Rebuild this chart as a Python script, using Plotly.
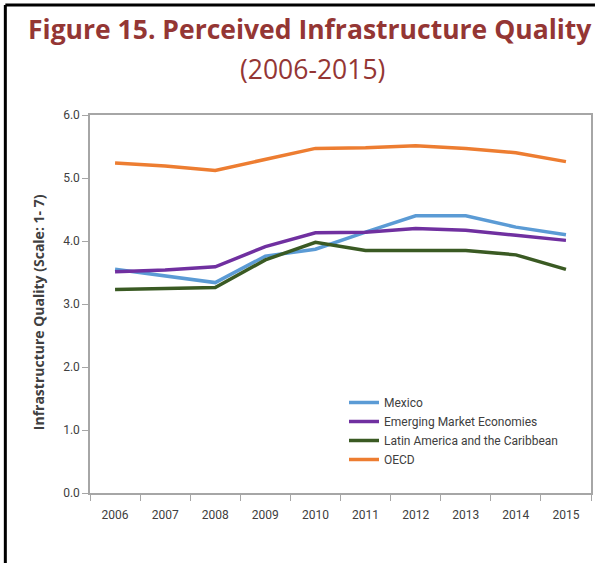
import plotly.graph_objects as go

years = ["2006", "2007", "2008", "2009", "2010", "2011", "2012", "2013", "2014", "2015"]
mexico = [3.55, 3.45, 3.34, 3.76, 3.87, 4.14, 4.40, 4.40, 4.22, 4.10]
emerging = [3.51, 3.54, 3.59, 3.91, 4.13, 4.14, 4.20, 4.17, 4.09, 4.01]
latam = [3.23, 3.25, 3.26, 3.70, 3.98, 3.85, 3.85, 3.85, 3.78, 3.55]
oecd = [5.24, 5.19, 5.12, 5.30, 5.47, 5.48, 5.51, 5.47, 5.40, 5.26]
y_ticks = [0, 1, 2, 3, 4, 5, 6]
y_tick_labels = ["0.0", "1.0", "2.0", "3.0", "4.0", "5.0", "6.0"]

series = [
    ("Mexico", mexico, "#5B9BD5"),
    ("Emerging Market Economies", emerging, "#7030A0"),
    ("Latin America and the Caribbean", latam, "#3A5A23"),
    ("OECD", oecd, "#ED7D31"),
]

fig = go.Figure()
for name, vals, col in series:
    fig.add_trace(go.Scatter(x=years, y=vals, name=name, mode="lines",
                             line=dict(color=col, width=3.5)))

W, H = 599, 563
L, R, T, B = 90, 593, 115, 493
pw, ph = R - L, B - T
def px(x):
    return (x - L) / pw
def py(y):
    return (B - y) / ph

tickfont = dict(family="Liberation Sans Narrow, Arial Narrow, Roboto, sans-serif", size=12, color="#404040")

fig.update_layout(
    width=W, height=H,
    margin=dict(l=L, r=W - R, t=T, b=H - B, pad=0),
    paper_bgcolor="white", plot_bgcolor="white",
    showlegend=True,
    legend=dict(x=px(345), y=py(388), xanchor="left", yanchor="top",
                font=dict(family="Roboto, sans-serif", size=12, color="#404040"),
                bgcolor="rgba(0,0,0,0)", tracegroupgap=0, itemwidth=30),
    xaxis=dict(type="category", range=[-0.5, 9.5], showline=True, linecolor="#A6A6A6",
               linewidth=1.5, mirror=True, ticks="outside", tickson="boundaries", ticklen=6,
               tickcolor="#A6A6A6", showgrid=False, tickfont=tickfont, zeroline=False,
               ticklabelstandoff=10),
    yaxis=dict(range=[0, 6], tickvals=y_ticks, ticktext=y_tick_labels,
               showline=True, linecolor="#A6A6A6", linewidth=1.5, mirror=True,
               ticks="outside", ticklen=6, tickcolor="#A6A6A6", showgrid=False,
               tickfont=tickfont, zeroline=False),
    annotations=[
        dict(text="<b>Figure 15. Perceived Infrastructure Quality</b>", xref="paper", yref="paper",
             x=px(311), y=py(29), xanchor="center", yanchor="middle", showarrow=False,
             font=dict(family="Open Sans, sans-serif", size=26.5, color="#943634")),
        dict(text="(2006-2015)", xref="paper", yref="paper",
             x=px(313), y=py(69), xanchor="center", yanchor="middle", showarrow=False,
             font=dict(family="Open Sans, sans-serif", size=26.5, color="#943634")),
        dict(text="<b>Infrastructure Quality (Scale: 1- 7)</b>", xref="paper", yref="paper",
             x=px(38), y=py(312), xanchor="center", yanchor="middle", showarrow=False,
             textangle=-90,
             font=dict(family="Open Sans, sans-serif", size=14, color="#404040")),
    ],
    shapes=[
        dict(type="line", xref="paper", yref="paper", x0=px(5), x1=px(597), y0=py(5), y1=py(5),
             line=dict(color="black", width=3)),
        dict(type="line", xref="paper", yref="paper", x0=px(5), x1=px(5), y0=py(5), y1=py(565),
             line=dict(color="black", width=3)),
    ],
)

fig.write_html("out.html", config={"displayModeBar": False},
               post_script="document.body.style.margin='0';")
